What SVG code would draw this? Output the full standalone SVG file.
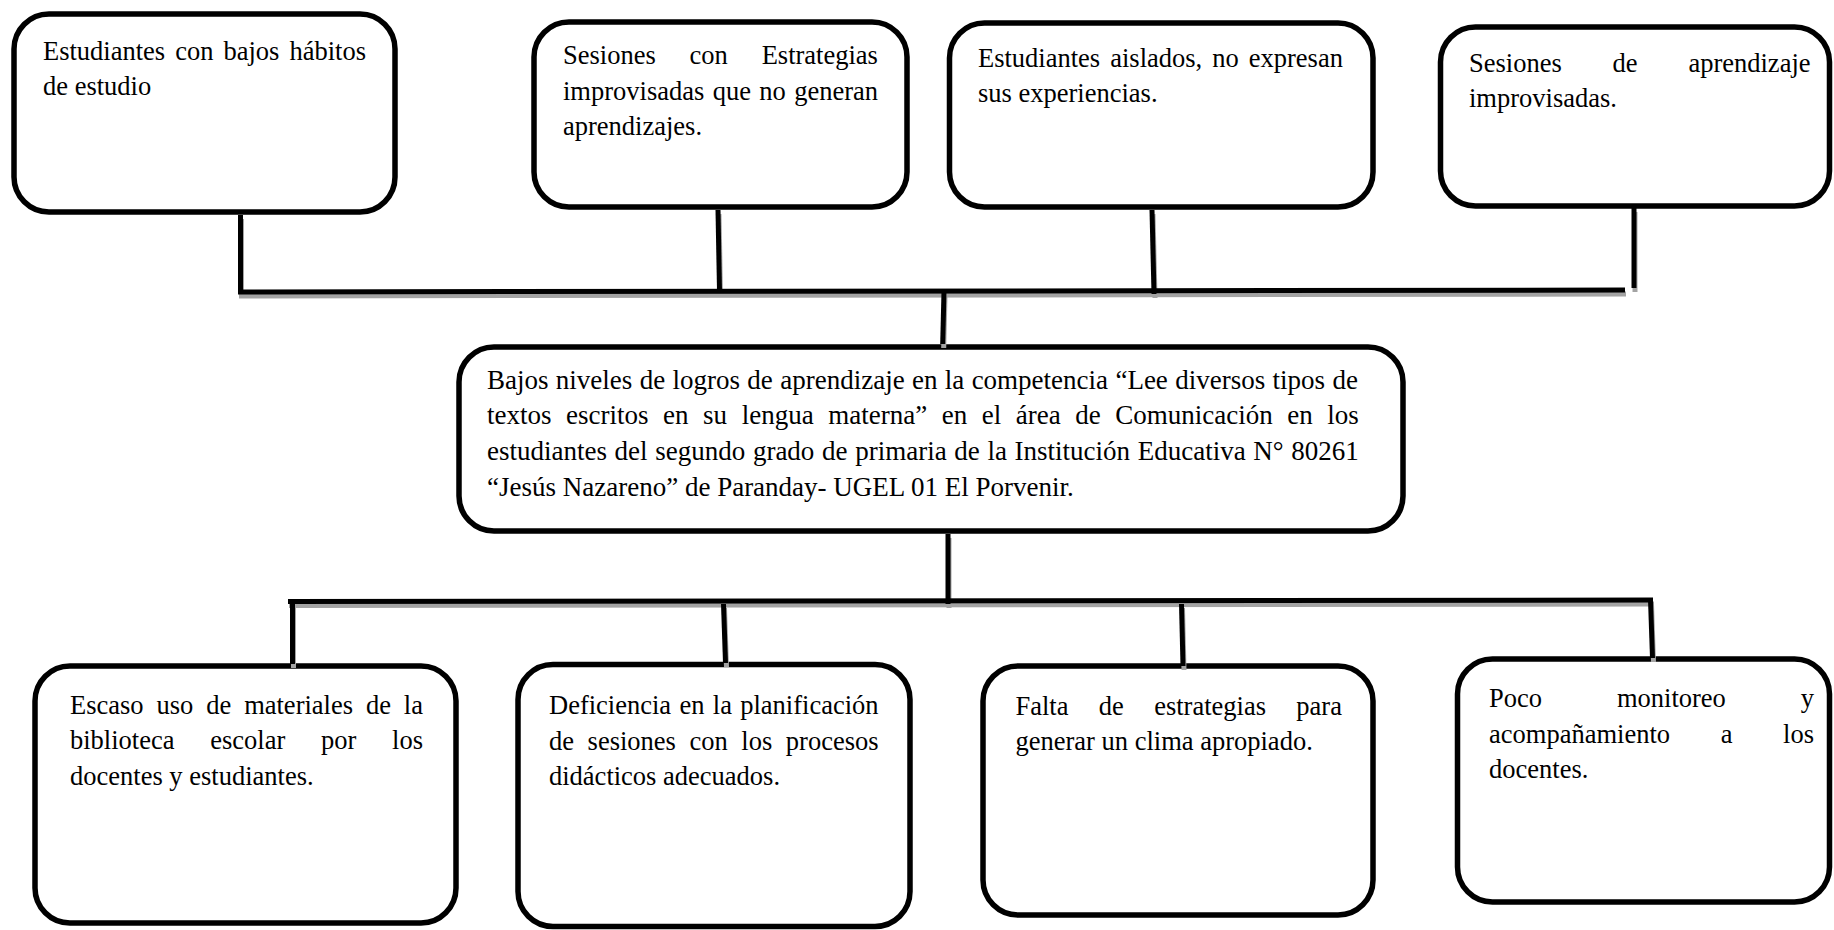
<svg xmlns="http://www.w3.org/2000/svg" width="1834" height="930" viewBox="0 0 1834 930">
<style>
.box{fill:#fff;stroke:#000;stroke-width:5.5}
.t{font-family:"Liberation Serif","Times New Roman",serif;font-size:26.5px;fill:#000}
.tc{font-family:"Liberation Serif","Times New Roman",serif;font-size:27px;fill:#000}
.ln{stroke:#000;stroke-width:5;fill:none}
.sh{stroke:#a3a3a3;stroke-width:5;fill:none}
</style>
<rect width="1834" height="930" fill="#fff"/>
<g id="n1">
<rect class="box" x="14" y="14" width="381" height="198" rx="35"/>
<text class="t"><tspan x="43" y="59.5" word-spacing="3.4">Estudiantes con bajos hábitos</tspan><tspan x="43" y="95">de estudio</tspan></text>
</g>
<g id="n2">
<rect class="box" x="534" y="22" width="373" height="185" rx="35"/>
<text class="t"><tspan x="563" y="64.2" word-spacing="27.2">Sesiones con Estrategias</tspan><tspan x="563" y="99.7" word-spacing="1.73">improvisadas que no generan</tspan><tspan x="563" y="135.2">aprendizajes.</tspan></text>
</g>
<g id="n3">
<rect class="box" x="949.5" y="23" width="423.5" height="184" rx="35"/>
<text class="t"><tspan x="978" y="66.8" word-spacing="3.4">Estudiantes aislados, no expresan</tspan><tspan x="978" y="102.3">sus experiencias.</tspan></text>
</g>
<g id="n4">
<rect class="box" x="1440.5" y="27" width="389" height="179" rx="35"/>
<text class="t"><tspan x="1469" y="71.8" word-spacing="44.2">Sesiones de aprendizaje</tspan><tspan x="1469" y="107.3">improvisadas.</tspan></text>
</g>
<g id="center">
<rect class="box" x="459" y="347" width="944" height="184" rx="35"/>
<text class="tc"><tspan x="487" y="388.5" word-spacing="0.6">Bajos niveles de logros de aprendizaje en la competencia “Lee diversos tipos de</tspan><tspan x="487" y="424.4" word-spacing="7.8">textos escritos en su lengua materna” en el área de Comunicación en los</tspan><tspan x="487" y="460.3" word-spacing="0.9">estudiantes del segundo grado de primaria de la Institución Educativa N° 80261</tspan><tspan x="487" y="496.2">“Jesús Nazareno” de Paranday- UGEL 01 El Porvenir.</tspan></text>
</g>
<g id="n5">
<rect class="box" x="35" y="666" width="421" height="257" rx="35"/>
<text class="t"><tspan x="70" y="713.8" word-spacing="6.28">Escaso uso de materiales de la</tspan><tspan x="70" y="749.3" word-spacing="29.1">biblioteca escolar por los</tspan><tspan x="70" y="784.8">docentes y estudiantes.</tspan></text>
</g>
<g id="n6">
<rect class="box" x="518" y="664.5" width="392" height="262" rx="35"/>
<text class="t"><tspan x="549" y="714" word-spacing="1.7">Deficiencia en la planificación</tspan><tspan x="549" y="749.5" word-spacing="6.96">de sesiones con los procesos</tspan><tspan x="549" y="785">didácticos adecuados.</tspan></text>
</g>
<g id="n7">
<rect class="box" x="983" y="666" width="390" height="249" rx="35"/>
<text class="t"><tspan x="1015.5" y="714.5" word-spacing="23.7">Falta de estrategias para</tspan><tspan x="1015.5" y="750">generar un clima apropiado.</tspan></text>
</g>
<g id="n8">
<rect class="box" x="1457.5" y="659" width="372" height="243" rx="35"/>
<text class="t"><tspan x="1489" y="707" word-spacing="68.3">Poco monitoreo y</tspan><tspan x="1489" y="742.5" word-spacing="44">acompañamiento a los</tspan><tspan x="1489" y="778">docentes.</tspan></text>
</g>
<g id="connectors">
<g class="sh" transform="translate(1,4)">
<line x1="238" y1="292" x2="1625" y2="290"/>
<line x1="240.5" y1="215" x2="240.5" y2="292"/>
<line x1="718" y1="210" x2="719.5" y2="291"/>
<line x1="1152" y1="210" x2="1154" y2="294"/>
<line x1="1634" y1="208" x2="1634" y2="288"/>
<line x1="944" y1="291" x2="942.7" y2="344"/>
<line x1="948" y1="534" x2="948" y2="604"/>
<line x1="288" y1="601.5" x2="1653" y2="600"/>
<line x1="292.5" y1="601" x2="292.5" y2="664"/>
<line x1="723.5" y1="604" x2="725.5" y2="663"/>
<line x1="1181.5" y1="604" x2="1183" y2="666"/>
<line x1="1650.5" y1="600" x2="1652.5" y2="658"/>
</g>
<g class="ln">
<line x1="238" y1="292" x2="1625" y2="290"/>
<line x1="240.5" y1="215" x2="240.5" y2="292"/>
<line x1="718" y1="210" x2="719.5" y2="291"/>
<line x1="1152" y1="210" x2="1154" y2="294"/>
<line x1="1634" y1="208" x2="1634" y2="288"/>
<line x1="944" y1="291" x2="942.7" y2="344"/>
<line x1="948" y1="534" x2="948" y2="604"/>
<line x1="288" y1="601.5" x2="1653" y2="600"/>
<line x1="292.5" y1="601" x2="292.5" y2="664"/>
<line x1="723.5" y1="604" x2="725.5" y2="663"/>
<line x1="1181.5" y1="604" x2="1183" y2="666"/>
<line x1="1650.5" y1="600" x2="1652.5" y2="658"/>
</g>
</g>
</svg>
